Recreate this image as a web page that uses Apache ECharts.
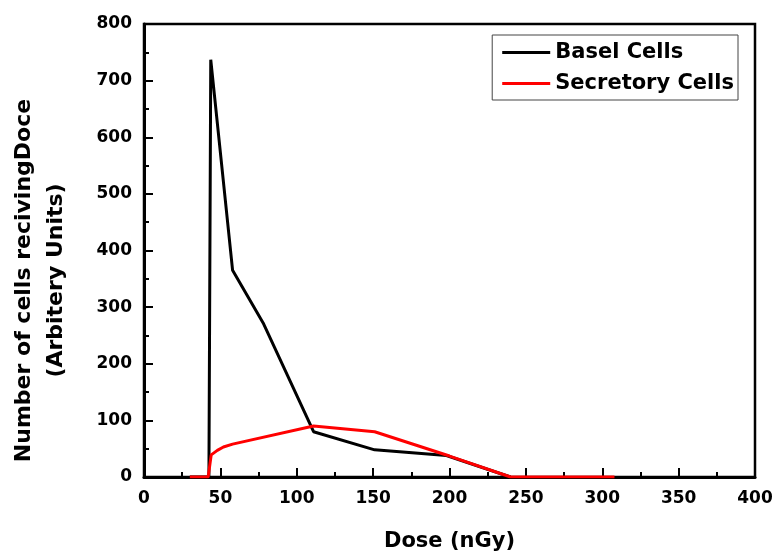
<!DOCTYPE html>
<html>
<head>
<meta charset="utf-8">
<script src="https://cdn.jsdelivr.net/npm/echarts@6/dist/echarts.min.js"></script>
<style>
  html, body { margin: 0; padding: 0; background: #fff; }
  #chart { width: 776px; height: 554px; }
</style>
</head>
<body>
<div id="chart"></div>
<script>
// dose values (nGy) and cell counts
const baselDose = [30, 42.5, 43.7, 58, 78, 111, 151, 198, 240];
const baselCount = [0, 0, 737, 365, 272, 80, 48, 38, 0];
const secretoryDose = [30, 42, 44, 48, 52, 58, 111, 151, 200, 240, 308];
const secretoryCount = [0, 0, 39, 47, 53, 58, 90, 80, 37, 0, 0];

const fontBold = { fontFamily: 'DejaVu Sans, sans-serif', fontWeight: 'bold', color: '#000' };

const pairs = (xs, ys) => xs.map((x, i) => [x, ys[i]]);

const chart = echarts.init(document.getElementById('chart'));
chart.setOption({
  animation: false,
  grid: {
    left: 144, right: 21, top: 24, bottom: 77,
    outerBoundsMode: 'none', containLabel: false,
    show: true, borderColor: '#000', borderWidth: 2.5, backgroundColor: 'transparent'
  },
  legend: {
    top: 35, right: 38,
    orient: 'vertical',
    itemWidth: 48, itemHeight: 3, itemGap: 10,
    icon: 'rect',
    borderColor: '#444', borderWidth: 1, padding: [7, 4, 6, 10],
    textStyle: Object.assign({ fontSize: 21 }, fontBold),
    data: ['Basel Cells', 'Secretory Cells']
  },
  xAxis: {
    type: 'value', min: 0, max: 400, interval: 50,
    name: 'Dose (nGy)', nameLocation: 'middle', nameGap: 54,
    nameTextStyle: Object.assign({ fontSize: 21 }, fontBold),
    axisLine: { lineStyle: { color: '#000', width: 3 } },
    axisTick: { inside: true, length: 9, lineStyle: { color: '#000', width: 2 } },
    minorTick: { show: true, splitNumber: 2, length: 5, lineStyle: { color: '#000', width: 2 } },
    axisLabel: Object.assign({ fontSize: 17, margin: 13 }, fontBold),
    splitLine: { show: false }
  },
  yAxis: {
    type: 'value', min: 0, max: 800, interval: 100,
    name: 'Number of cells recivingDoce\n(Arbitery Units)', nameLocation: 'middle', nameGap: 72,
    nameTextStyle: Object.assign({ fontSize: 22, lineHeight: 32, padding: [0, 60, 0, 0] }, fontBold),
    axisLine: { lineStyle: { color: '#000', width: 3 } },
    axisTick: { inside: true, length: 9, lineStyle: { color: '#000', width: 2 } },
    minorTick: { show: true, splitNumber: 2, length: 5, lineStyle: { color: '#000', width: 2 } },
    axisLabel: Object.assign({ fontSize: 17, margin: 12 }, fontBold),
    splitLine: { show: false }
  },
  series: [
    {
      name: 'Basel Cells', type: 'line', data: pairs(baselDose, baselCount),
      showSymbol: false, symbol: 'none',
      lineStyle: { color: '#000', width: 3 }, itemStyle: { color: '#000' }
    },
    {
      name: 'Secretory Cells', type: 'line', data: pairs(secretoryDose, secretoryCount),
      showSymbol: false, symbol: 'none',
      lineStyle: { color: '#ff0000', width: 3 }, itemStyle: { color: '#ff0000' }
    }
  ]
});
</script>
</body>
</html>
